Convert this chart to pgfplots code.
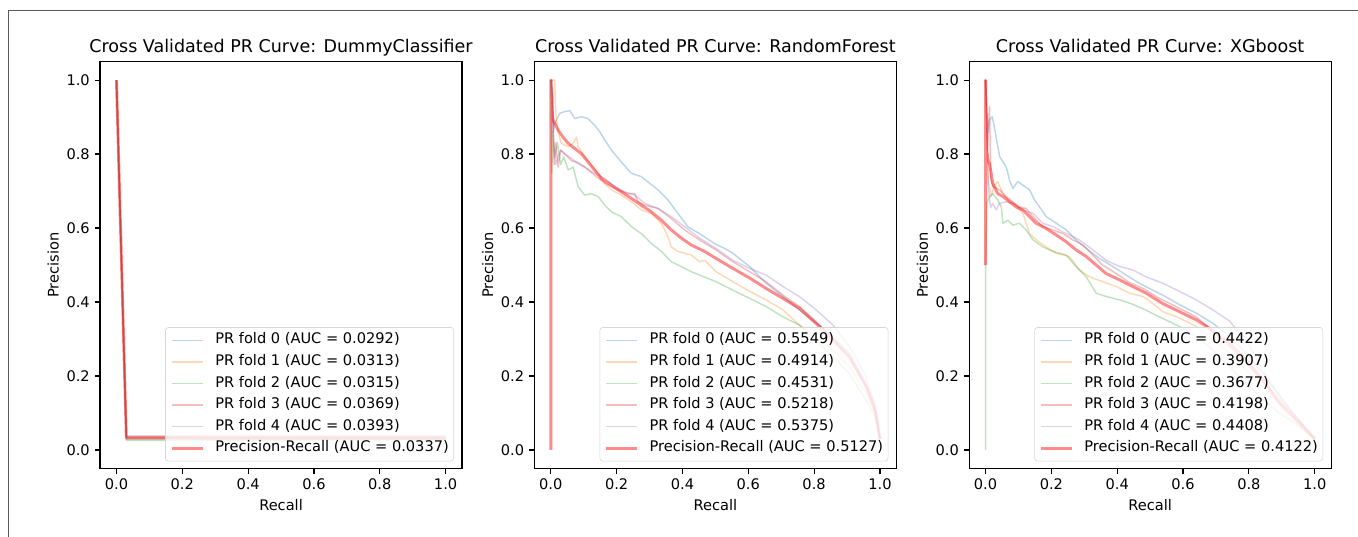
\documentclass[border=0pt]{standalone}
\usepackage{fontspec}
\setmainfont{DejaVu Sans}
\usepackage{pgfplots}
\pgfplotsset{compat=1.18}

\definecolor{cblue}{HTML}{1F77B4}
\definecolor{corange}{HTML}{FF7F0E}
\definecolor{cgreen}{HTML}{2CA02C}
\definecolor{cred}{HTML}{D62728}
\definecolor{cpurple}{HTML}{9467BD}

\pgfplotsset{
  prax/.style={
    scale only axis, width=248pt, height=278.7pt,
    xmin=-0.05, xmax=1.05, ymin=-0.05, ymax=1.05,
    xtick={0,0.2,0.4,0.6,0.8,1}, xticklabels={0.0,0.2,0.4,0.6,0.8,1.0},
    ytick={0,0.2,0.4,0.6,0.8,1}, yticklabels={0.0,0.2,0.4,0.6,0.8,1.0},
    tick align=outside, tick pos=left, major tick length=3.5pt,
    every tick/.style={black, line width=0.8pt},
    axis line style={line width=0.8pt, black},
    tick label style={font=\fontsize{10}{12}\selectfont},
    label style={font=\fontsize{10}{12}\selectfont},
    xlabel={Recall}, ylabel={Precision},
    xlabel style={at={([yshift=-25.1pt]axis description cs:0.5,0)}, anchor=center},
    ylabel style={at={([xshift=-32pt]axis description cs:0,0.5)}, anchor=center},
    title style={font=\fontsize{12}{14}\selectfont, at={(0.5,1)}, anchor=base},
    legend cell align=left,
    legend image code/.code={\draw[#1] (0pt,0pt) -- (21.2pt,0pt);},
    legend style={at={(1,0)}, anchor=south east, xshift=-5.5pt, yshift=4.9pt,
      draw=black!16, rounded corners=2pt, fill=white, fill opacity=0.8,
      draw opacity=1, text opacity=1, font=\fontsize{10}{12}\selectfont,
      inner xsep=3.4pt, inner ysep=4pt, row sep=5.3pt, column sep=7.5pt,
      nodes={inner sep=0pt, text height=7.3pt, text depth=2.2pt}},
  },
  fold/.style={color=#1, opacity=0.3, line width=1pt, line join=round},
  meanpr/.style={color=red, opacity=0.45, line width=2pt, line join=round},
}

\begin{document}
\begin{tikzpicture}
\useasboundingbox (0,0) rectangle (930.2pt,367.8pt);
\draw[line width=0.7pt, black!65] (5.7pt,0pt) -- (5.7pt,360.3pt) -- (930.2pt,360.3pt);

% ---------- DummyClassifier ----------
\begin{axis}[prax, at={(68.5pt,46.9pt)}, anchor=south west,
  title={Cross Validated PR Curve: DummyClassifier}]
\addplot[fold=cblue] coordinates {(0,1) (0.03,0.029) (1,0.029)};
\addlegendentry{PR fold 0 (AUC = 0.0292)}
\addplot[fold=corange] coordinates {(0,1) (0.03,0.031) (1,0.031)};
\addlegendentry{PR fold 1 (AUC = 0.0313)}
\addplot[fold=cgreen] coordinates {(0,1) (0.03,0.026) (1,0.028)};
\addlegendentry{PR fold 2 (AUC = 0.0315)}
\addplot[fold=cred] coordinates {(0,1) (0.03,0.035) (1,0.035)};
\addlegendentry{PR fold 3 (AUC = 0.0369)}
\addplot[fold=cpurple] coordinates {(0,1) (0.03,0.038) (1,0.038)};
\addlegendentry{PR fold 4 (AUC = 0.0393)}
\addplot[meanpr] coordinates {(0,1) (0.03,0.033) (1,0.033)};
\addlegendentry{Precision-Recall (AUC = 0.0337)}
\end{axis}

% ---------- RandomForest ----------
\begin{axis}[prax, at={(366pt,46.9pt)}, anchor=south west,
  title={Cross Validated PR Curve: RandomForest}]
\addplot[fold=cblue] coordinates {
  (0,1.0) (0.005,1.0) (0.008,0.86) (0.012,0.883) (0.027,0.91) (0.042,0.915)
  (0.058,0.917) (0.073,0.896) (0.093,0.901) (0.113,0.896) (0.133,0.878)
  (0.149,0.86) (0.164,0.838) (0.184,0.811) (0.214,0.779) (0.245,0.748)
  (0.275,0.739) (0.295,0.725) (0.326,0.703) (0.356,0.676) (0.386,0.64)
  (0.417,0.603) (0.452,0.585) (0.497,0.558) (0.528,0.545) (0.553,0.532)
  (0.604,0.496) (0.654,0.451) (0.705,0.415) (0.755,0.379) (0.806,0.343)
  (0.857,0.307) (0.907,0.262) (0.958,0.18) (0.985,0.12) (1.0,0.03)};
\addlegendentry{PR fold 0 (AUC = 0.5549)}
\addplot[fold=corange] coordinates {
  (0,1.0) (0.012,1.0) (0.014,0.938) (0.017,0.892) (0.025,0.85) (0.032,0.829)
  (0.053,0.82) (0.068,0.829) (0.078,0.846) (0.083,0.82) (0.103,0.793)
  (0.123,0.77) (0.144,0.748) (0.164,0.721) (0.184,0.703) (0.214,0.689)
  (0.245,0.671) (0.275,0.649) (0.305,0.64) (0.336,0.612) (0.356,0.577)
  (0.366,0.549) (0.386,0.537) (0.427,0.527) (0.452,0.509) (0.467,0.513)
  (0.502,0.482) (0.553,0.455) (0.604,0.429) (0.654,0.406) (0.705,0.379)
  (0.755,0.338) (0.806,0.307) (0.857,0.271) (0.907,0.226) (0.958,0.154)
  (0.985,0.1) (1.0,0.03)};
\addlegendentry{PR fold 1 (AUC = 0.4914)}
\addplot[fold=cgreen] coordinates {
  (0,1.0) (0.003,0.75) (0.006,0.86) (0.012,0.792) (0.02,0.831) (0.03,0.772)
  (0.04,0.792) (0.053,0.757) (0.068,0.765) (0.083,0.712) (0.103,0.689)
  (0.123,0.693) (0.144,0.685) (0.164,0.662) (0.184,0.644) (0.214,0.631)
  (0.245,0.604) (0.275,0.585) (0.305,0.559) (0.336,0.537) (0.366,0.509)
  (0.396,0.496) (0.427,0.482) (0.452,0.473) (0.502,0.455) (0.553,0.432)
  (0.604,0.41) (0.654,0.388) (0.705,0.36) (0.755,0.338) (0.806,0.295)
  (0.857,0.252) (0.907,0.207) (0.958,0.135) (0.985,0.09) (1.0,0.03)};
\addlegendentry{PR fold 2 (AUC = 0.4531)}
\addplot[fold=cred] coordinates {
  (0,1.0) (0.006,0.957) (0.01,0.772) (0.015,0.831) (0.022,0.765) (0.03,0.811)
  (0.042,0.801) (0.063,0.782) (0.083,0.777) (0.103,0.765) (0.133,0.743)
  (0.164,0.721) (0.204,0.703) (0.235,0.693) (0.255,0.693) (0.265,0.671)
  (0.285,0.662) (0.326,0.653) (0.366,0.626) (0.406,0.595) (0.452,0.568)
  (0.502,0.541) (0.553,0.509) (0.604,0.482) (0.654,0.455) (0.705,0.419)
  (0.755,0.388) (0.806,0.347) (0.857,0.302) (0.907,0.252) (0.958,0.172)
  (0.985,0.11) (1.0,0.03)};
\addlegendentry{PR fold 3 (AUC = 0.5218)}
\addplot[fold=cpurple] coordinates {
  (0,1.0) (0.005,0.908) (0.01,0.811) (0.015,0.772) (0.022,0.793) (0.03,0.811)
  (0.042,0.801) (0.063,0.788) (0.083,0.774) (0.103,0.765) (0.133,0.748)
  (0.164,0.734) (0.194,0.712) (0.225,0.698) (0.255,0.689) (0.285,0.667)
  (0.326,0.653) (0.366,0.631) (0.406,0.604) (0.452,0.573) (0.502,0.545)
  (0.553,0.513) (0.604,0.491) (0.654,0.473) (0.705,0.442) (0.755,0.415)
  (0.806,0.379) (0.857,0.338) (0.907,0.28) (0.958,0.199) (0.985,0.12)
  (1.0,0.03)};
\addlegendentry{PR fold 4 (AUC = 0.5375)}
\addplot[meanpr] coordinates {
  (0,0) (0,1.0) (0.004,0.908) (0.007,0.892) (0.022,0.865) (0.037,0.846)
  (0.053,0.829) (0.073,0.815) (0.093,0.801) (0.113,0.779) (0.133,0.757)
  (0.154,0.734) (0.184,0.716) (0.214,0.698) (0.245,0.68) (0.275,0.662)
  (0.305,0.644) (0.336,0.621) (0.366,0.595) (0.396,0.573) (0.427,0.554)
  (0.467,0.537) (0.502,0.518) (0.553,0.491) (0.604,0.465) (0.654,0.437)
  (0.705,0.41) (0.755,0.383) (0.806,0.342) (0.857,0.298) (0.907,0.252)
  (0.958,0.172) (0.988,0.1) (1.0,0.03)};
\addlegendentry{Precision-Recall (AUC = 0.5127)}
\end{axis}

% ---------- XGboost ----------
\begin{axis}[prax, at={(663.8pt,46.9pt)}, anchor=south west,
  title={Cross Validated PR Curve: XGboost}]
\addplot[fold=cblue] coordinates {
  (0,1.0) (0.004,0.918) (0.008,0.86) (0.012,0.892) (0.02,0.901) (0.027,0.873)
  (0.032,0.846) (0.043,0.793) (0.053,0.779) (0.063,0.765) (0.073,0.729)
  (0.083,0.707) (0.098,0.726) (0.113,0.716) (0.134,0.703) (0.149,0.676)
  (0.164,0.657) (0.184,0.631) (0.215,0.613) (0.245,0.595) (0.275,0.568)
  (0.306,0.545) (0.346,0.518) (0.387,0.496) (0.427,0.473) (0.467,0.451)
  (0.508,0.432) (0.538,0.419) (0.589,0.393) (0.64,0.37) (0.69,0.343)
  (0.741,0.307) (0.792,0.262) (0.842,0.208) (0.893,0.145) (0.943,0.09)
  (1.0,0.03)};
\addlegendentry{PR fold 0 (AUC = 0.4422)}
\addplot[fold=corange] coordinates {
  (0,1.0) (0.008,0.733) (0.017,0.685) (0.027,0.716) (0.037,0.725) (0.053,0.693)
  (0.073,0.671) (0.093,0.662) (0.113,0.64) (0.134,0.585) (0.154,0.568)
  (0.184,0.549) (0.215,0.532) (0.255,0.523) (0.285,0.487) (0.316,0.468)
  (0.356,0.455) (0.397,0.442) (0.437,0.424) (0.478,0.415) (0.508,0.396)
  (0.538,0.374) (0.589,0.357) (0.64,0.334) (0.69,0.298) (0.741,0.262)
  (0.792,0.216) (0.842,0.172) (0.893,0.127) (0.943,0.082) (1.0,0.03)};
\addlegendentry{PR fold 1 (AUC = 0.3907)}
\addplot[fold=cgreen] coordinates {
  (0,0) (0,0.5) (0.004,0.667) (0.012,0.685) (0.022,0.693) (0.037,0.676)
  (0.048,0.657) (0.053,0.613) (0.068,0.621) (0.083,0.608) (0.103,0.613)
  (0.123,0.595) (0.144,0.568) (0.174,0.549) (0.204,0.537) (0.245,0.527)
  (0.275,0.496) (0.306,0.468) (0.336,0.424) (0.366,0.415) (0.407,0.406)
  (0.447,0.394) (0.488,0.378) (0.528,0.36) (0.589,0.334) (0.64,0.307)
  (0.69,0.271) (0.741,0.226) (0.792,0.18) (0.842,0.136) (0.893,0.1)
  (0.943,0.071) (1.0,0.03)};
\addlegendentry{PR fold 2 (AUC = 0.3677)}
\addplot[fold=cred] coordinates {
  (0,1.0) (0.006,0.811) (0.012,0.928) (0.016,0.733) (0.022,0.712) (0.043,0.703)
  (0.063,0.685) (0.083,0.671) (0.103,0.657) (0.123,0.653) (0.144,0.631)
  (0.174,0.604) (0.204,0.595) (0.235,0.585) (0.265,0.568) (0.296,0.554)
  (0.326,0.527) (0.356,0.5) (0.397,0.477) (0.437,0.453) (0.478,0.437)
  (0.518,0.415) (0.538,0.406) (0.589,0.383) (0.64,0.36) (0.69,0.321)
  (0.741,0.28) (0.792,0.235) (0.842,0.185) (0.893,0.136) (0.943,0.09)
  (1.0,0.03)};
\addlegendentry{PR fold 3 (AUC = 0.4198)}
\addplot[fold=cpurple] coordinates {
  (0,1.0) (0.008,0.714) (0.015,0.655) (0.022,0.667) (0.032,0.649) (0.043,0.667)
  (0.063,0.671) (0.083,0.667) (0.113,0.649) (0.144,0.64) (0.174,0.613)
  (0.204,0.604) (0.245,0.585) (0.285,0.568) (0.326,0.541) (0.366,0.513)
  (0.407,0.496) (0.447,0.487) (0.488,0.468) (0.538,0.451) (0.589,0.429)
  (0.64,0.406) (0.69,0.379) (0.741,0.349) (0.792,0.295) (0.842,0.217)
  (0.893,0.149) (0.943,0.09) (1.0,0.03)};
\addlegendentry{PR fold 4 (AUC = 0.4408)}
\addplot[meanpr] coordinates {
  (0,0.5) (0,1.0) (0.003,0.811) (0.008,0.782) (0.012,0.774) (0.022,0.721)
  (0.037,0.693) (0.053,0.685) (0.073,0.671) (0.093,0.657) (0.113,0.649)
  (0.134,0.631) (0.154,0.613) (0.184,0.599) (0.215,0.581) (0.245,0.563)
  (0.275,0.541) (0.306,0.523) (0.336,0.5) (0.366,0.477) (0.407,0.46)
  (0.447,0.442) (0.488,0.424) (0.538,0.396) (0.589,0.374) (0.64,0.352)
  (0.68,0.329) (0.741,0.288) (0.792,0.244) (0.842,0.19) (0.893,0.127)
  (0.943,0.082) (1.0,0.03)};
\addlegendentry{Precision-Recall (AUC = 0.4122)}
\end{axis}
\end{tikzpicture}
\end{document}
